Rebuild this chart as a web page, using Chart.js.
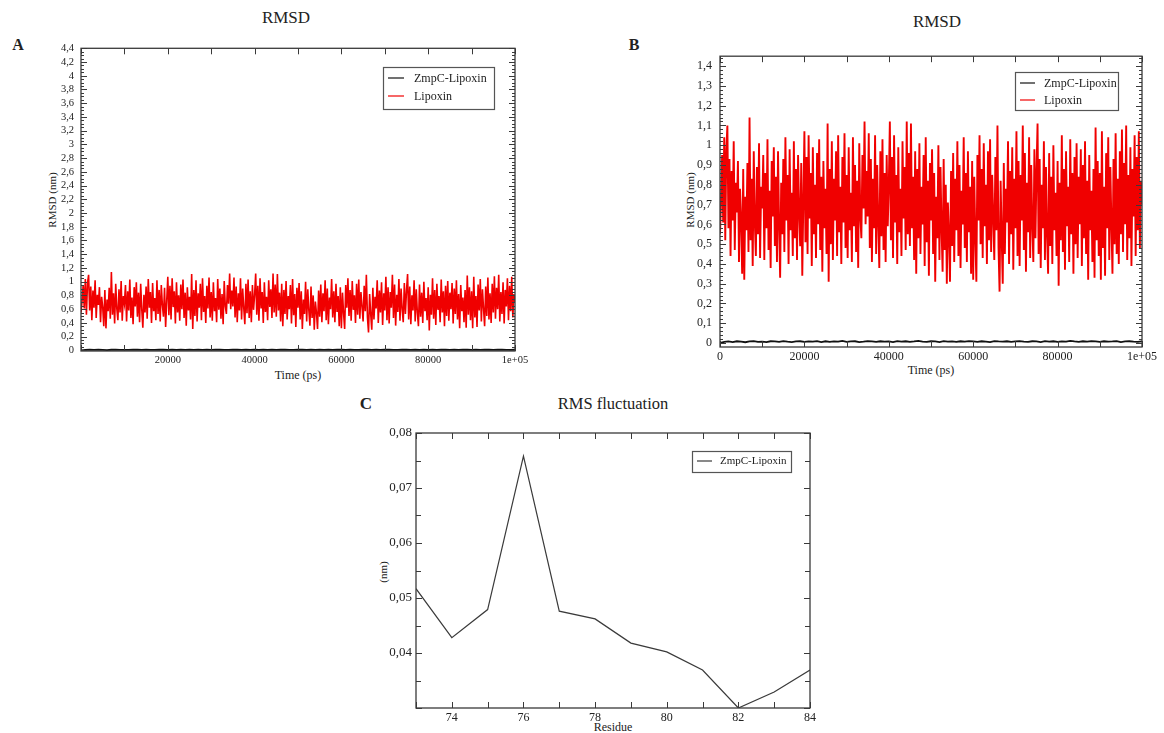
<!DOCTYPE html>
<html>
<head>
<meta charset="utf-8">
<title>RMSD and RMS fluctuation</title>
<script src="https://cdn.jsdelivr.net/npm/chart.js@4.4.1/dist/chart.umd.min.js"></script>
<style>
  html, body { margin: 0; padding: 0; background: #fff; }
  body { width: 1164px; height: 733px; position: relative; overflow: hidden;
         font-family: "Liberation Serif", "Times New Roman", serif; color: #222; }
  canvas { position: absolute; }
  .txt { position: absolute; white-space: nowrap; transform: translate(-50%, -50%); line-height: 1; }
  .rot { transform: translate(-50%, -50%) rotate(-90deg); }
  .panel-id { font-weight: bold; }
</style>
</head>
<body>

<div class="txt" style="left:286px;top:17px;font-size:17px;">RMSD</div>
<div class="txt panel-id" style="left:18px;top:45px;font-size:16px;">A</div>
<div class="txt rot" style="left:52px;top:200px;font-size:11px;">RMSD (nm)</div>
<div class="txt" style="left:298px;top:375px;font-size:12px;">Time (ps)</div>

<div class="txt" style="left:937px;top:21px;font-size:17px;">RMSD</div>
<div class="txt panel-id" style="left:634px;top:45px;font-size:16px;">B</div>
<div class="txt rot" style="left:690px;top:200px;font-size:11px;">RMSD (nm)</div>
<div class="txt" style="left:931px;top:370px;font-size:12px;">Time (ps)</div>

<div class="txt" style="left:613px;top:404px;font-size:16.5px;">RMS fluctuation</div>
<div class="txt panel-id" style="left:366px;top:403px;font-size:17px;">C</div>
<div class="txt rot" style="left:383px;top:572px;font-size:11px;">(nm)</div>
<div class="txt" style="left:613px;top:727px;font-size:12px;">Residue</div>

<script>
// ---- RMSD trajectories (nm), sampled every timeStepPs / zmpcStepPs picoseconds ----
const timeStepPs = 250;
const lipoxinRmsd = [
  0.55,0.72,0.95,0.61,1.04,0.52,0.98,1.10,0.58,0.93,0.44,0.87,0.62,1.02,0.47,0.81,0.66,0.92,0.41,0.78,
  0.63,0.35,0.88,0.32,0.74,0.57,0.91,0.46,1.14,0.52,0.83,0.39,0.97,0.61,0.44,0.89,0.55,1.01,0.43,0.79,
  0.68,0.95,0.42,0.86,0.58,1.03,0.47,0.77,0.38,0.92,0.64,0.99,0.49,0.84,0.41,0.97,0.60,0.33,0.81,0.55,
  0.93,0.46,1.04,0.62,0.85,0.40,0.98,0.57,0.76,0.44,1.02,0.53,0.88,0.42,0.95,0.66,0.49,0.91,0.34,0.72,
  1.07,0.51,0.94,0.45,1.05,0.63,0.86,0.39,0.99,0.55,0.80,0.43,0.96,0.60,1.03,0.47,0.84,0.36,0.92,0.58,
  0.78,0.45,1.11,0.31,0.88,0.50,1.02,0.42,0.83,0.62,0.97,0.44,1.05,0.56,0.79,0.40,0.94,0.61,1.06,0.48,
  0.85,0.43,0.99,0.57,0.76,0.41,1.04,0.59,0.90,0.46,0.82,0.38,1.01,0.64,0.53,0.95,0.68,1.12,0.60,0.87,
  0.64,1.06,0.48,0.93,0.41,0.83,0.58,1.05,0.45,0.90,0.62,0.38,0.97,0.54,1.03,0.47,0.86,0.41,0.95,0.59,
  0.80,1.12,0.52,0.94,0.43,1.05,0.61,0.85,0.40,0.99,0.56,0.78,0.44,1.02,0.63,0.89,0.47,1.12,0.55,0.96,
  0.49,1.11,0.58,0.84,0.42,0.97,0.35,0.88,0.53,1.01,0.45,0.79,0.60,0.95,0.39,1.04,0.51,0.82,0.34,0.91,
  0.62,0.98,0.45,0.86,0.31,0.74,0.53,1.00,0.42,0.89,0.58,0.36,0.93,0.47,0.80,0.30,0.71,0.55,0.31,0.87,
  0.49,0.96,0.41,0.83,0.57,1.02,0.44,0.90,0.38,0.77,0.60,1.04,0.48,0.86,0.41,0.97,0.56,0.79,0.35,0.92,
  0.32,0.84,0.54,0.31,0.95,0.62,1.05,0.50,0.88,0.43,1.01,0.59,0.80,0.40,0.97,0.52,1.03,0.46,0.85,0.64,
  0.42,0.94,0.57,1.10,0.48,0.26,0.82,0.53,0.30,0.91,0.45,0.78,0.61,1.02,0.40,0.87,0.55,0.99,0.37,0.83,
  0.58,1.07,0.44,0.92,0.39,0.85,0.62,1.10,0.47,0.96,0.36,0.81,0.56,1.04,0.43,0.90,0.60,0.41,0.98,0.53,
  0.87,1.11,0.45,0.93,0.38,0.80,0.58,1.02,0.42,0.89,0.55,0.35,0.96,0.49,0.84,0.40,1.00,0.57,0.76,0.44,
  0.92,0.29,0.81,0.52,1.05,0.46,0.88,0.37,0.97,0.59,0.79,0.41,1.03,0.55,0.86,0.35,0.94,0.50,1.01,0.43,
  0.84,0.60,0.98,0.39,0.90,0.53,1.02,0.45,0.82,0.32,0.95,0.57,0.77,0.41,0.88,0.33,1.09,0.52,0.92,0.44,
  0.86,0.32,1.07,0.48,0.79,0.34,0.96,0.58,1.04,0.42,0.89,0.61,0.35,0.93,0.50,1.06,0.45,0.83,0.40,0.97,
  0.55,1.08,0.46,0.91,0.60,1.10,0.42,0.85,0.53,0.99,0.39,0.88,0.64,1.05,0.44,0.94,0.57,1.07,0.48,0.82,
  0.70
];

const zmpcStepPs = 1000;
const zmpcRmsd = [
  0.000,0.006,0.008,0.005,0.009,0.007,0.004,0.008,0.010,0.006,
  0.007,0.005,0.009,0.008,0.006,0.010,0.007,0.005,0.008,0.009,
  0.006,0.008,0.007,0.010,0.005,0.009,0.006,0.008,0.007,0.011,
  0.006,0.008,0.009,0.005,0.007,0.010,0.008,0.006,0.009,0.007,
  0.008,0.005,0.010,0.007,0.009,0.006,0.008,0.011,0.007,0.006,
  0.009,0.008,0.005,0.010,0.007,0.008,0.006,0.009,0.007,0.010,
  0.008,0.006,0.009,0.007,0.005,0.010,0.008,0.007,0.009,0.006,
  0.008,0.010,0.007,0.006,0.009,0.008,0.005,0.010,0.007,0.009,
  0.006,0.008,0.007,0.011,0.008,0.006,0.009,0.007,0.010,0.008,
  0.006,0.009,0.007,0.008,0.010,0.005,0.008,0.009,0.007,0.006,
  0.008
];

// ---- RMS fluctuation per residue (nm) ----
const residues = [73, 74, 75, 76, 77, 78, 79, 80, 81, 82, 83, 84];
const rmsf     = [0.0517, 0.0428, 0.0479, 0.0758, 0.0476, 0.0462, 0.0418, 0.0402, 0.0369, 0.0300, 0.0329, 0.0369];

// ---- tick labels ----
const timeTicksA  = [20000, 40000, 60000, 80000, 100000];
const timeTicksB  = [0, 20000, 40000, 60000, 80000, 100000];
const rmsdTicksA  = [0, 0.2, 0.4, 0.6, 0.8, 1, 1.2, 1.4, 1.6, 1.8, 2, 2.2, 2.4, 2.6, 2.8, 3, 3.2, 3.4, 3.6, 3.8, 4, 4.2, 4.4];
const rmsdTicksB  = [0, 0.1, 0.2, 0.3, 0.4, 0.5, 0.6, 0.7, 0.8, 0.9, 1, 1.1, 1.2, 1.3, 1.4];
const residueTicks = [74, 76, 78, 80, 82, 84];
const rmsfTicks    = [0.04, 0.05, 0.06, 0.07, 0.08];

const FONT = '"Liberation Serif", "Times New Roman", serif';
const INK = '#222';

const fmtComma = v => (Math.round(v * 10000) / 10000).toString().replace('.', ',');
const fmtTime  = v => (v === 100000 ? '1e+05' : String(v));

// evenly spaced decoration marks for the inward tick rows
function marks(from, to, step) {
  const out = [];
  const n = Math.round((to - from) / step);
  for (let i = 0; i <= n; i++) out.push(from + i * step);
  return out;
}

function buildPanel(cfg) {
  const padL = 62, padR = 26, padT = 12, padB = 30;
  const box = cfg.box;
  const ox = box.l - padL, oy = box.t - padT;
  const w = box.r - box.l + padL + padR;
  const h = box.b - box.t + padT + padB;
  const cv = document.createElement('canvas');
  cv.width = w; cv.height = h;
  cv.style.left = ox + 'px'; cv.style.top = oy + 'px';
  cv.style.width = w + 'px'; cv.style.height = h + 'px';
  document.body.appendChild(cv);

  // frame, inward ticks on all four sides, and the boxed legend
  const deco = {
    id: 'deco_' + cfg.name,
    afterDatasetsDraw(chart) {
      const { ctx, chartArea: a, scales } = chart;
      const xs = scales.x, ys = scales.y;
      ctx.save();
      ctx.strokeStyle = '#3a3a3a';
      ctx.lineWidth = 1;
      const xRow = (vals, len) => {
        vals.forEach(v => {
          const px = Math.round(xs.getPixelForValue(v)) + 0.5;
          ctx.beginPath();
          ctx.moveTo(px, a.bottom); ctx.lineTo(px, a.bottom - len);
          ctx.moveTo(px, a.top); ctx.lineTo(px, a.top + len);
          ctx.stroke();
        });
      };
      const yRow = (vals, len) => {
        vals.forEach(v => {
          const py = Math.round(ys.getPixelForValue(v)) + 0.5;
          ctx.beginPath();
          ctx.moveTo(a.left, py); ctx.lineTo(a.left + len, py);
          ctx.moveTo(a.right, py); ctx.lineTo(a.right - len, py);
          ctx.stroke();
        });
      };
      if (cfg.xMinor) xRow(cfg.xMinor, cfg.minorLen);
      xRow(cfg.xMajor, cfg.majorLen);
      if (cfg.yMinor) yRow(cfg.yMinor, cfg.minorLen);
      yRow(cfg.yMajor, cfg.majorLen);

      ctx.lineWidth = 1.3;
      ctx.strokeRect(a.left, a.top, a.right - a.left, a.bottom - a.top);

      const lg = cfg.legend;
      if (lg) {
        ctx.fillStyle = '#fff';
        ctx.fillRect(lg.x - ox, lg.y - oy, lg.w, lg.h);
        ctx.strokeStyle = '#555';
        ctx.lineWidth = 1.2;
        ctx.strokeRect(lg.x - ox + 0.5, lg.y - oy + 0.5, lg.w, lg.h);
        ctx.font = lg.size + 'px ' + FONT;
        ctx.textBaseline = 'middle';
        ctx.textAlign = 'left';
        lg.rows.forEach(row => {
          const ds = chart.data.datasets[row.ds];
          const ry = row.y - oy;
          ctx.strokeStyle = ds.borderColor;
          ctx.lineWidth = 1.2;
          ctx.beginPath();
          ctx.moveTo(lg.lineX1 - ox, ry); ctx.lineTo(lg.lineX2 - ox, ry);
          ctx.stroke();
          ctx.fillStyle = INK;
          ctx.fillText(ds.label, lg.textX - ox, ry + 0.5);
        });
      }
      ctx.restore();
    }
  };

  new Chart(cv.getContext('2d'), {
    type: 'line',
    data: { datasets: cfg.datasets },
    options: {
      responsive: false,
      animation: false,
      devicePixelRatio: 1,
      parsing: false,
      normalized: true,
      layout: { padding: { top: padT, right: padR, left: 0, bottom: 0 } },
      plugins: { legend: { display: false }, tooltip: { enabled: false }, title: { display: false } },
      elements: { point: { radius: 0 }, line: { tension: 0 } },
      scales: {
        x: {
          type: 'linear', min: cfg.x.min, max: cfg.x.max,
          grid: { display: false, drawTicks: false }, border: { display: false },
          afterFit: s => { s.height = padB; },
          afterBuildTicks: s => { s.ticks = cfg.x.ticks.map(v => ({ value: v })); },
          ticks: { autoSkip: false, maxRotation: 0, minRotation: 0, padding: cfg.x.pad, color: INK,
                   font: { family: FONT, size: cfg.x.size }, callback: cfg.x.fmt }
        },
        y: {
          type: 'linear', min: cfg.y.min, max: cfg.y.max,
          grid: { display: false, drawTicks: false }, border: { display: false },
          afterFit: s => { s.width = padL; },
          afterBuildTicks: s => { s.ticks = cfg.y.ticks.map(v => ({ value: v })); },
          ticks: { autoSkip: false, padding: cfg.y.pad, color: INK,
                   font: { family: FONT, size: cfg.y.size }, callback: cfg.y.fmt }
        }
      }
    },
    plugins: [deco]
  });
}

const lipoxinPts = lipoxinRmsd.map((v, i) => ({ x: i * timeStepPs, y: v }));
const zmpcPts = zmpcRmsd.map((v, i) => ({ x: i * zmpcStepPs, y: v }));

// Lipoxin drawn first, the complex trace on top of it
function rmsdDatasets(redWidth) {
  return [
    { label: 'Lipoxin', data: lipoxinPts, borderColor: '#f00000', borderWidth: redWidth },
    { label: 'ZmpC-Lipoxin', data: zmpcPts, borderColor: '#111', borderWidth: 1.8 }
  ];
}

// Panel A: RMSD on the full 0–4.4 nm range
buildPanel({
  name: 'A',
  box: { l: 81, r: 515, t: 47, b: 351 },
  datasets: rmsdDatasets(1.6),
  x: { min: 0, max: 100000, ticks: timeTicksA, fmt: fmtTime, size: 10.5, pad: 3 },
  y: { min: -0.01, max: 4.4, ticks: rmsdTicksA, fmt: fmtComma, size: 10.5, pad: 7 },
  xMajor: marks(0, 100000, 10000),
  yMajor: marks(0, 4.4, 0.2), yMinor: marks(0, 4.4, 0.05),
  majorLen: 6, minorLen: 3,
  legend: { x: 383, y: 67, w: 111, h: 42, size: 12, lineX1: 388, lineX2: 404, textX: 414,
            rows: [{ ds: 1, y: 78 }, { ds: 0, y: 96 }] }
});

// Panel B: RMSD zoomed to 0–1.45 nm
buildPanel({
  name: 'B',
  box: { l: 720, r: 1142, t: 53, b: 347 },
  datasets: rmsdDatasets(1.9),
  x: { min: 0, max: 100000, ticks: timeTicksB, fmt: fmtTime, size: 12, pad: 3 },
  y: { min: -0.02, max: 1.45, ticks: rmsdTicksB, fmt: fmtComma, size: 12, pad: 8 },
  xMajor: marks(0, 100000, 10000),
  yMajor: marks(0, 1.4, 0.1), yMinor: marks(0, 1.44, 0.02),
  majorLen: 6, minorLen: 3,
  legend: { x: 1015, y: 72, w: 103, h: 38, size: 12, lineX1: 1020, lineX2: 1035, textX: 1044,
            rows: [{ ds: 1, y: 83 }, { ds: 0, y: 100 }] }
});

// Panel C: per-residue RMS fluctuation
buildPanel({
  name: 'C',
  box: { l: 416, r: 810, t: 433, b: 708 },
  datasets: [{ label: 'ZmpC-Lipoxin', data: residues.map((r, i) => ({ x: r, y: rmsf[i] })),
               borderColor: '#3a3a3a', borderWidth: 1.2 }],
  x: { min: 73, max: 84, ticks: residueTicks, fmt: v => String(v), size: 12, pad: 3 },
  y: { min: 0.03, max: 0.08, ticks: rmsfTicks, fmt: fmtComma, size: 13, pad: 4 },
  xMajor: marks(73, 84, 1),
  yMajor: marks(0.03, 0.08, 0.01), yMinor: marks(0.03, 0.08, 0.005),
  majorLen: 6, minorLen: 5,
  legend: { x: 692, y: 451, w: 99, h: 21, size: 11, lineX1: 697, lineX2: 712, textX: 720,
            rows: [{ ds: 0, y: 461 }] }
});
</script>
</body>
</html>
